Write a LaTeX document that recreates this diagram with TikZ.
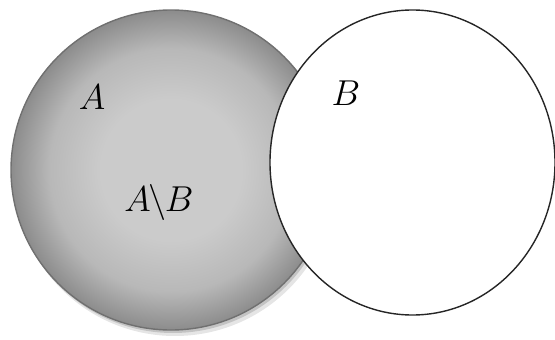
\documentclass[tikz,border=0pt]{standalone}
\usepackage{fix-cm}
\definecolor{shA}{HTML}{CBCBCB}
\definecolor{shB}{HTML}{B8B8B8}
\definecolor{shC}{HTML}{8C8C8C}
\definecolor{rimA}{HTML}{707070}
\pgfdeclareradialshading{ashade}{\pgfpoint{0bp}{0bp}}{%
  color(0bp)=(shA);
  color(11bp)=(shA);
  color(19bp)=(shB);
  color(25bp)=(shC);
  color(50bp)=(shC)}
\tikzset{
  lbl/.style={font=\fontsize{36}{38}\selectfont, inner sep=0pt, anchor=base},
}
\begin{document}
\begin{tikzpicture}[x=1pt,y=-1pt]
\useasboundingbox (0,0) rectangle (555,340);
% shadow of A
\fill[black, opacity=0.10] (175,175) ellipse [x radius=161, y radius=161];
\fill[black, opacity=0.15] (173,173) ellipse [x radius=160, y radius=160];
% circle A
\shade[shading=ashade, draw=rimA, line width=1.4pt] (171,170) ellipse [x radius=160, y radius=160];
\node[draw=none, minimum size=320pt, inner sep=0pt] (A) at (171,170) {};
% circle B
\draw[fill=white, draw=black!85, line width=1.4pt] (412.5,162.5) ellipse [x radius=142.5, y radius=152.5];
\node[draw=none, inner sep=0pt] (B) at (412.5,162.5) {};
% labels
\node[lbl] (la) at (92,109) {$A$};
\node[lbl] (lab) at (159,211) {$A\mkern-1mu\backslash\mkern-1mu B$};
\node[lbl] (lb) at (346,105) {$B$};
\end{tikzpicture}
\end{document}
